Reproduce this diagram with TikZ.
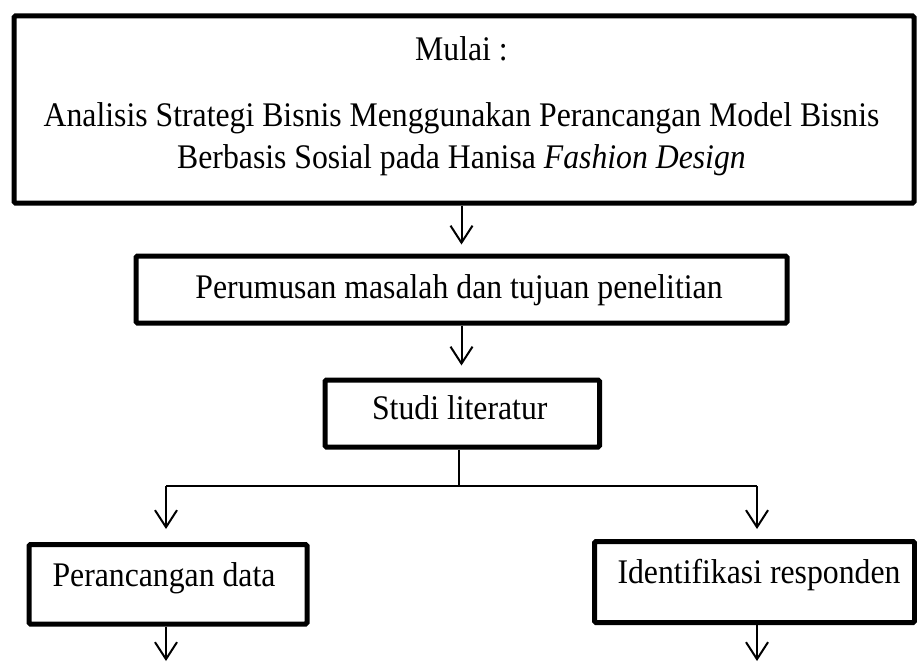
\documentclass[tikz,border=0pt]{standalone}
\usepackage{fontspec}
\setmainfont[FakeStretch=0.92]{Liberation Serif}
\usetikzlibrary{arrows.meta}
\begin{document}
\begin{tikzpicture}[x=1pt,y=-1pt,
  box/.style={draw, line width=5pt, rounded corners=1.5pt, inner sep=0pt, anchor=north west},
  txt/.style={font=\fontsize{34.5}{42}\selectfont, anchor=base, inner sep=0pt},
  conn/.style={line width=2pt},
  arr/.style={line width=2pt, -{Straight Barb[length=17pt,width=22pt]}}]
\useasboundingbox (0,0) rectangle (917,661);
% boxes
\node[box, minimum width=900pt, minimum height=187pt] (top) at (11.5,13.5) {};
\node[box, minimum width=651pt, minimum height=67pt] (b2) at (133.5,253.5) {};
\node[box, minimum width=274.5pt, minimum height=67pt] (studi) at (322.5,377.5) {};
\node[box, minimum width=278pt, minimum height=79.5pt] (left) at (26.5,542) {};
\node[box, minimum width=320pt, minimum height=81pt] (right) at (592,539) {};
% texts
\node[txt] (t1) at (461.5,60) {Mulai :};
\node[txt] (t2) at (461.5,126) {Analisis Strategi Bisnis Menggunakan Perancangan Model Bisnis};
\node[txt] (t3) at (461.5,168) {Berbasis Sosial pada Hanisa \textit{Fashion Design}};
\node[txt] (t4) at (459,298) {Perumusan masalah dan tujuan penelitian};
\node[txt] (t5) at (459.75,419) {Studi literatur};
\node[txt] (t6) at (164,586) {Perancangan data};
\node[txt] (t7) at (759,583) {Identifikasi responden};
% connectors
\coordinate (j) at (459,486);
\coordinate (jl) at (166,486);
\coordinate (jr) at (757,486);
\coordinate (el) at (166,661);
\coordinate (er) at (757,661);
\draw[arr, shorten >=9pt] (b2.north |- top.south) -- (b2.north);
\draw[arr, shorten >=12pt] (b2.south) -- (b2.south |- studi.north);
\draw[conn] (j |- studi.south) -- (j);
\draw[conn] (jl) -- (jr);
\draw[arr, shorten >=13pt] (jl) -- (jl |- left.north);
\draw[arr, shorten >=10pt] (jr) -- (jr |- right.north);
\draw[arr] (el |- left.south) -- (el);
\draw[arr] (er |- right.south) -- (er);
\end{tikzpicture}
\end{document}
